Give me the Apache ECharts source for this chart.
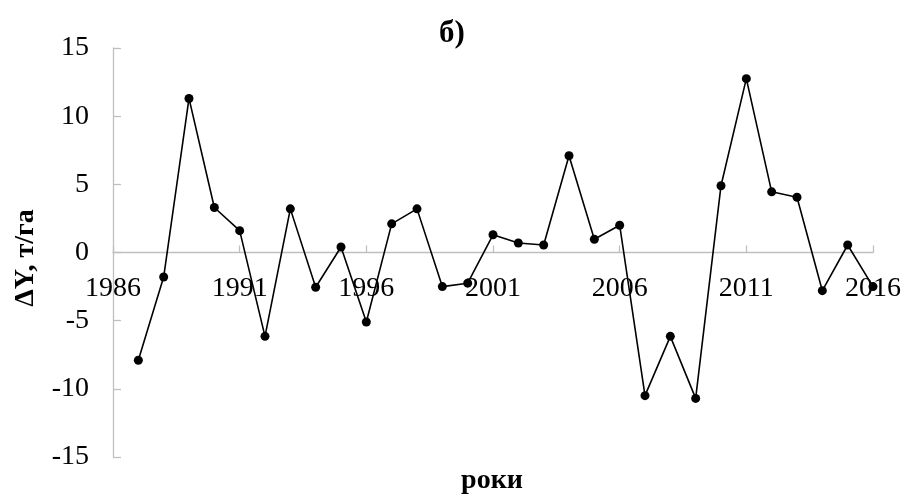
<!DOCTYPE html>
<html>
<head>
<meta charset="utf-8">
<script src="https://cdn.jsdelivr.net/npm/echarts@6/dist/echarts.min.js"></script>
<style>
  html, body { margin: 0; padding: 0; background: #fff; }
  #chart { width: 910px; height: 497px; }
</style>
</head>
<body>
<div id="chart"></div>
<script>
const years = [1987, 1988, 1989, 1990, 1991, 1992, 1993, 1994, 1995, 1996,
  1997, 1998, 1999, 2000, 2001, 2002, 2003, 2004, 2005, 2006,
  2007, 2008, 2009, 2010, 2011, 2012, 2013, 2014, 2015, 2016];
const deltaY = [-7.9, -1.8, 11.3, 3.3, 1.6, -6.15, 3.2, -2.55, 0.4, -5.1,
  2.1, 3.2, -2.5, -2.25, 1.3, 0.7, 0.55, 7.1, 0.97, 2.0,
  -10.5, -6.15, -10.7, 4.9, 12.75, 4.45, 4.05, -2.8, 0.55, -2.5];

const font = 'Liberation Serif';
const axisGrey = '#bfbfbf';

let chart = echarts.init(document.getElementById('chart'));

// grid geometry; zero line sits at the middle of the plot
const gridTop = 48, gridBottom = 40;
const plotH = 497 - gridTop - gridBottom;

let option = {
  animation: false,
  textStyle: { fontFamily: font },
  grid: {
    left: 113, right: 37, top: gridTop, bottom: gridBottom,
    containLabel: false, outerBoundsMode: 'none'
  },
  xAxis: {
    type: 'value',
    min: 1986,
    max: 2016,
    interval: 5,
    offset: -plotH / 2,
    axisLine: { onZero: false, lineStyle: { color: axisGrey, width: 1.3 } },
    axisTick: { inside: true, length: 7, lineStyle: { color: axisGrey, width: 1.3 } },
    axisLabel: {
      color: '#000', fontSize: 28, fontFamily: font, margin: 22,
      showMinLabel: true, showMaxLabel: true,
      formatter: v => String(v)
    },
    splitLine: { show: false }
  },
  yAxis: {
    type: 'value',
    min: -15,
    max: 15,
    interval: 5,
    axisLine: { show: true, lineStyle: { color: axisGrey, width: 1.3 } },
    axisTick: { show: true, inside: true, length: 8, lineStyle: { color: axisGrey, width: 1.3 } },
    axisLabel: { color: '#000', fontSize: 28, fontFamily: font, margin: 24 },
    splitLine: { show: false }
  },
  graphic: [{
    type: 'text',
    style: {
      text: 'б)', x: 452, y: 34, align: 'center', verticalAlign: 'middle',
      font: 'bold 31px "Liberation Serif"', fill: '#000'
    }
  }, {
    type: 'text',
    style: {
      text: 'роки', x: 492, y: 481, align: 'center', verticalAlign: 'middle',
      font: 'bold 28px "Liberation Serif"', fill: '#000'
    }
  }, {
    type: 'text',
    x: 26, y: 258, rotation: Math.PI / 2,
    style: {
      text: 'ΔY, т/га', align: 'center', verticalAlign: 'middle',
      font: 'bold 28px "Liberation Serif"', fill: '#000'
    }
  }],
  series: [{
    type: 'line',
    data: years.map((y, i) => [y, deltaY[i]]),
    symbol: 'circle',
    symbolSize: 9,
    itemStyle: { color: '#000' },
    lineStyle: { color: '#000', width: 1.6 }
  }]
};

option && chart.setOption(option);
</script>
</body>
</html>
